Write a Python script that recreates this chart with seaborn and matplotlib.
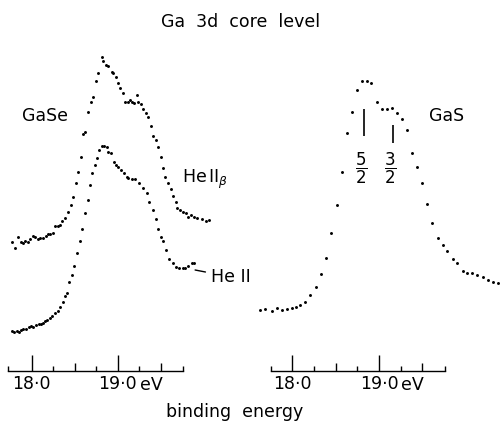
import matplotlib

matplotlib.use("Agg")

import matplotlib.pyplot as plt
import pandas as pd
import seaborn as sns

# Ga 3d core level photoemission spectra: binding energy (eV) vs intensity (arb. units)
gase_heb_energy = [
    17.774, 17.806, 17.837, 17.872, 17.895, 17.926, 17.957, 17.980, 18.012, 18.042,
    18.073, 18.097, 18.128, 18.163, 18.186, 18.213, 18.244, 18.274, 18.306, 18.329,
    18.356, 18.387, 18.422, 18.451, 18.480, 18.515, 18.542, 18.570, 18.600, 18.620,
    18.658, 18.686, 18.716, 18.744, 18.774, 18.814, 18.833, 18.860, 18.891, 18.930,
    18.949, 18.977, 19.000, 19.030, 19.062, 19.088, 19.116, 19.143, 19.166, 19.190,
    19.221, 19.240, 19.271, 19.298, 19.326, 19.349, 19.384, 19.414, 19.445, 19.472,
    19.500, 19.523, 19.553, 19.588, 19.620, 19.647, 19.674, 19.693, 19.724, 19.763,
    19.794, 19.821, 19.849, 19.887, 19.926, 19.977, 20.027, 20.065,
]
gase_heb_counts = [
    128.7, 123.3, 133.7, 129.3, 128.3, 130.3, 129.0, 132.0, 135.0, 133.7,
    131.7, 133.3, 133.3, 135.0, 137.0, 136.7, 138.3, 145.0, 145.0, 146.0,
    150.0, 153.0, 159.0, 166.0, 174.0, 188.0, 199.3, 214.3, 237.0, 239.3,
    259.3, 269.3, 274.3, 290.3, 298.3, 313.7, 310.3, 306.0, 305.0, 299.3,
    298.3, 294.3, 288.3, 282.7, 277.7, 268.7, 269.3, 271.0, 269.3, 267.7,
    276.0, 269.3, 267.0, 261.7, 257.7, 254.3, 245.0, 235.0, 231.0, 224.3,
    214.3, 202.7, 194.3, 188.3, 181.7, 175.0, 169.3, 162.7, 161.0, 159.3,
    158.0, 153.7, 156.0, 153.7, 152.7, 151.7, 150.3, 151.0,
]

gase_he2_energy = [
    17.774, 17.798, 17.826, 17.852, 17.876, 17.902, 17.934, 17.965, 17.995, 18.019,
    18.050, 18.081, 18.105, 18.128, 18.158, 18.181, 18.213, 18.240, 18.271, 18.302,
    18.329, 18.360, 18.387, 18.410, 18.437, 18.465, 18.492, 18.530, 18.565, 18.588,
    18.620, 18.655, 18.678, 18.705, 18.730, 18.756, 18.786, 18.814, 18.844, 18.872,
    18.891, 18.919, 18.960, 18.980, 19.007, 19.035, 19.073, 19.105, 19.123, 19.163,
    19.201, 19.251, 19.298, 19.337, 19.367, 19.407, 19.445, 19.472, 19.503, 19.523,
    19.558, 19.600, 19.647, 19.678, 19.716, 19.756, 19.783, 19.821, 19.860, 19.887,
]
gase_he2_counts = [
    40.0, 39.3, 40.0, 39.3, 41.0, 42.0, 41.7, 43.7, 45.0, 43.7,
    45.7, 47.0, 46.7, 48.3, 50.3, 51.0, 53.3, 55.0, 57.7, 60.0,
    63.7, 69.3, 75.0, 77.7, 89.3, 96.0, 105.3, 117.7, 130.0, 142.0,
    158.0, 171.0, 186.0, 198.3, 206.0, 212.7, 221.0, 225.3, 225.3, 224.3,
    219.3, 217.7, 208.7, 206.0, 204.3, 201.0, 197.7, 194.3, 192.7, 191.7,
    191.7, 188.3, 182.7, 177.7, 169.3, 161.0, 151.7, 141.7, 134.3, 130.3,
    121.0, 111.7, 107.7, 104.3, 102.7, 102.7, 103.3, 105.0, 107.7, 108.3,
]

gas_he2_energy = [
    17.627, 17.685, 17.766, 17.824, 17.881, 17.939, 17.997, 18.043, 18.089, 18.146,
    18.204, 18.273, 18.331, 18.388, 18.446, 18.516, 18.573, 18.631, 18.689, 18.746,
    18.804, 18.862, 18.908, 18.977, 19.035, 19.092, 19.150, 19.208, 19.266, 19.324,
    19.381, 19.439, 19.497, 19.554, 19.612, 19.681, 19.739, 19.785, 19.854, 19.900,
    19.970, 20.016, 20.073, 20.131, 20.200, 20.257, 20.315, 20.373,
]
gas_he2_counts = [
    61, 62, 60, 63, 61, 62, 63, 64, 66, 69,
    76, 84, 97, 113, 138, 166, 199, 238, 259, 281,
    290, 290, 288, 269, 262, 262, 263, 258, 252, 241,
    218, 204, 188, 167, 148, 133, 126, 120, 112, 108,
    100, 98, 98, 96, 94, 91, 89, 88,
]

major_ticks = [18.0, 19.0]
major_labels = ["18·0", "19·0"]
mid_ticks = [18.5, 19.5]
small_ticks = [18.25, 18.75, 19.25]

# spin-orbit components marked on the GaS spectrum
so_energy = [18.83, 19.16]
so_labels = [r"$\dfrac{5}{2}$", r"$\dfrac{3}{2}$"]

sns.set_theme(style="white")
plt.rcParams["font.family"] = ["DejaVu Sans"]
plt.rcParams["mathtext.fontset"] = "dejavusans"
plt.rcParams["text.color"] = "black"
plt.rcParams["xtick.color"] = "black"
plt.rcParams["xtick.labelcolor"] = "black"

W, H = 500, 421
BASE = 371
fig = plt.figure(figsize=(W / 100, H / 100), dpi=100)
fig.patch.set_facecolor("white")


def add_panel(x0, x1, xlim, ends):
    ax = fig.add_axes([x0 / W, (H - BASE) / H, (x1 - x0) / W, 331 / H])
    ax.set_facecolor("none")
    ax.set_xlim(*xlim)
    ax.set_ylim(0, 331)
    for side in ["left", "right", "top"]:
        ax.spines[side].set_visible(False)
    ax.spines["bottom"].set_bounds(*ends)
    ax.spines["bottom"].set_color("black")
    ax.spines["bottom"].set_linewidth(1.0)
    ax.set_yticks([])
    ax.set_xticks(major_ticks, major_labels)
    ax.set_xticks(mid_ticks, minor=True)
    ax.tick_params(axis="x", which="major", direction="in", length=11.5, width=1,
                   color="black", labelcolor="black", pad=3, labelsize=12.5, bottom=True)
    ax.tick_params(axis="x", which="minor", direction="in", length=5.8, width=1,
                   color="black", bottom=True)
    sec = ax.secondary_xaxis("bottom")
    sec.set_xticks(small_ticks + list(ends))
    sec.tick_params(direction="in", length=3.4, width=1, color="black", labelbottom=False)
    sec.spines["bottom"].set_visible(False)
    ax.text(19.255, -0.015, "eV", transform=ax.get_xaxis_transform(), fontsize=12.5,
            va="top", ha="left", color="black")
    ax.grid(False)
    return ax


ax_l = add_panel(0, 240, (17.631, 20.422), (17.729, 19.756))
ax_r = add_panel(250, 500, (17.512, 20.396), (17.751, 19.761))

left = pd.concat([
    pd.DataFrame({"energy": gase_heb_energy, "counts": gase_heb_counts, "line": "He II beta"}),
    pd.DataFrame({"energy": gase_he2_energy, "counts": gase_he2_counts, "line": "He II"}),
])
right = pd.DataFrame({"energy": gas_he2_energy, "counts": gas_he2_counts})

sns.scatterplot(data=left, x="energy", y="counts", ax=ax_l, color="black", s=4.5,
                linewidth=0, legend=False, clip_on=False)
sns.scatterplot(data=right, x="energy", y="counts", ax=ax_r, color="black", s=4.5,
                linewidth=0, legend=False, clip_on=False)
for ax in (ax_l, ax_r):
    ax.set_xlabel("")
    ax.set_ylabel("")

# labels
ax_l.text(17.884, 255, "GaSe", fontsize=12.5, va="center", ha="left")
ax_l.text(19.75, 188, r"He$\,$II$_\beta$", fontsize=12.5, va="baseline", ha="left")
ax_l.annotate("He II", xy=(19.9, 101), xytext=(20.09, 94), fontsize=12.5,
              va="center", ha="left",
              arrowprops=dict(arrowstyle="-", color="black", lw=1.0, shrinkA=2, shrinkB=0))
ax_r.text(19.58, 255, "GaS", fontsize=12.5, va="center", ha="left")

ax_r.vlines(so_energy, [235, 228], [262, 246], color="black", lw=1.2)
for e, lab in zip(so_energy, so_labels):
    ax_r.text(e - 0.03, 203, lab, fontsize=12, ha="center", va="center")

fig.text(241 / W, (H - 22) / H, "Ga  3d  core  level", fontsize=12.5, ha="center", va="center")
fig.text(235 / W, (H - 411.7) / H, "binding  energy", fontsize=12.5, ha="center", va="center")

fig.savefig("out.png", dpi=100, facecolor="white")
